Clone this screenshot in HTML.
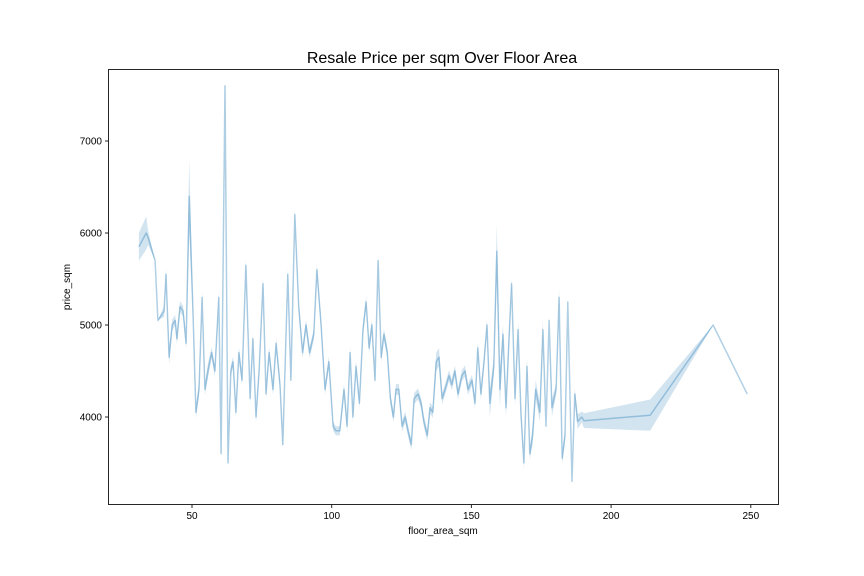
<!DOCTYPE html>
<html><head><meta charset="utf-8"><style>
html,body{margin:0;padding:0;background:#fff;}
svg{display:block;font-family:"Liberation Sans","DejaVu Sans",sans-serif;}
</style></head><body>
<svg id="chart" width="864" height="576" viewBox="0 0 864 576">
<rect x="0" y="0" width="864" height="576" fill="#fff"/>
<text x="442" y="63" text-anchor="middle" font-size="16" fill="#000">Resale Price per sqm Over Floor Area</text>
<g id="plot"></g>
<rect x="108.5" y="69.5" width="670" height="435" fill="none" stroke="#262626" stroke-width="1"/>
<g id="xticks"></g>
<g id="yticks"></g>
<text x="443" y="534" text-anchor="middle" font-size="10">floor_area_sqm</text>
<text x="70" y="287" text-anchor="middle" font-size="10" transform="rotate(-90 70 287)">price_sqm</text>
</svg>
<script>
const xs = [31,33.6,34.3,36.8,37.8,40,40.7,41.8,42.9,44,44.6,45.7,46.8,47.9,49,50.4,51.4,52.5,53.6,54.6,55.7,57,58.2,59.6,60.4,61.8,62.9,63.9,64.7,65.7,66.8,67.9,69.3,70.8,71.8,72.9,74,75.4,76.5,77.6,79,80.1,81.5,82.5,84.3,85.4,86.8,88.2,89.6,90.8,92.1,93.6,94.7,96.2,97.6,99,100.5,101.5,102.9,104.4,105.5,106.6,107.6,108.7,109.9,111.2,112.3,113.4,114.4,115.5,116.6,117.7,118.7,119.9,121,122.1,123,124,125.2,126.3,127.3,128.5,129.5,130.9,132,133,134.2,135.2,136.2,137.4,138.4,139.5,140.6,142,143,144.1,145.2,146.6,147.7,148.8,150.2,151.3,152.3,153.4,154.5,155.6,156.6,158,159.1,160.2,161.3,162.4,163.4,164.4,165.6,166.7,167.7,168.8,169.9,170.9,171.9,173,174.5,175.6,176.7,177.8,178.8,180.3,181.4,182.5,183.5,184.5,186,187,188,189.5,190.3,214,236.5,248.7];
const price = [5850,6000,5950,5700,5050,5150,5550,4650,5000,5050,4850,5200,5150,4800,6400,5100,4050,4300,5300,4300,4500,4700,4500,5300,3600,7600,3500,4500,4600,4050,4700,4400,5650,4200,4850,4000,4500,5450,4250,4700,4300,4800,4350,3700,5550,4400,6200,5200,4700,5000,4700,4900,5600,5000,4300,4600,3900,3850,3850,4300,3900,4700,4000,4550,4150,4950,5250,4750,5000,4400,5700,4650,4900,4700,4200,4000,4300,4300,3900,4000,3850,3700,4200,4250,4150,3950,3800,4100,4050,4600,4650,4200,4300,4450,4350,4500,4250,4450,4500,4300,4400,4150,4750,4250,4600,5000,4150,4550,5800,4300,4900,4100,4800,5450,4200,4950,4050,3500,4550,3600,3800,4300,4050,4950,3900,5050,4100,4300,5300,3550,3800,5250,3300,4250,3950,4000,3960,4020,5000,4250];
const err = [150,180,80,0,0,60,60,80,60,60,60,60,60,60,400,60,60,80,60,60,80,60,60,60,40,60,40,60,60,60,60,60,60,60,60,60,60,60,60,60,60,60,60,40,60,60,60,60,60,60,60,60,60,60,60,60,50,50,50,60,60,60,60,60,60,60,60,60,60,60,60,60,60,60,60,60,60,60,60,60,60,60,60,60,60,60,60,60,60,100,100,60,60,60,60,60,60,60,60,60,60,60,60,60,60,60,150,100,300,200,100,100,100,60,80,80,80,60,100,60,100,100,100,100,0,0,100,60,100,60,60,0,0,60,80,60,80,170,0,0];
const xTicks = [50,100,150,200,250];
const yTicks = [4000,5000,6000,7000];

const NS = "http://www.w3.org/2000/svg";
const X = v => 52.3 + v * 2.794;
const Y = v => 417 - (v - 4000) * 0.092;
const plot = document.getElementById('plot');

let up = '', lo = '';
for (let i = 0; i < xs.length; i++) {
  up += (i ? 'L' : 'M') + X(xs[i]).toFixed(1) + ',' + Y(price[i] + err[i]).toFixed(1);
}
for (let i = xs.length - 1; i >= 0; i--) {
  lo += 'L' + X(xs[i]).toFixed(1) + ',' + Y(price[i] - err[i]).toFixed(1);
}
const band = document.createElementNS(NS, 'path');
band.setAttribute('d', up + lo + 'Z');
band.setAttribute('fill', '#1f77b4');
band.setAttribute('fill-opacity', '0.2');
band.setAttribute('stroke', 'none');


plot.appendChild(band);

let d = '';
for (let i = 0; i < xs.length; i++) {
  d += (i ? 'L' : 'M') + X(xs[i]).toFixed(1) + ',' + Y(price[i]).toFixed(1);
}
const line = document.createElementNS(NS, 'path');
line.setAttribute('d', d);
line.setAttribute('fill', 'none');
line.setAttribute('stroke', '#1f77b4');
line.setAttribute('stroke-opacity', '0.35');
line.setAttribute('stroke-width', '1.5');
line.setAttribute('stroke-linejoin', 'round');


plot.appendChild(line);

const xg = document.getElementById('xticks');
xTicks.forEach(t => {
  const l = document.createElementNS(NS, 'line');
  l.setAttribute('x1', X(t)); l.setAttribute('x2', X(t));
  l.setAttribute('y1', 504.5); l.setAttribute('y2', 508);
  l.setAttribute('stroke', '#262626');
  
  
  xg.appendChild(l);
  const tx = document.createElementNS(NS, 'text');
  tx.setAttribute('x', X(t)); tx.setAttribute('y', 519);
  tx.setAttribute('text-anchor', 'middle'); tx.setAttribute('font-size', '10');
  tx.textContent = t;
  
  
  xg.appendChild(tx);
});
const yg = document.getElementById('yticks');
yTicks.forEach(t => {
  const l = document.createElementNS(NS, 'line');
  l.setAttribute('x1', 105); l.setAttribute('x2', 108.5);
  l.setAttribute('y1', Y(t)); l.setAttribute('y2', Y(t));
  l.setAttribute('stroke', '#262626');
  
  
  yg.appendChild(l);
  const tx = document.createElementNS(NS, 'text');
  tx.setAttribute('x', 102); tx.setAttribute('y', Y(t) + 3.5);
  tx.setAttribute('text-anchor', 'end'); tx.setAttribute('font-size', '10');
  tx.textContent = t;
  
  
  yg.appendChild(tx);
});
</script>
</body></html>
